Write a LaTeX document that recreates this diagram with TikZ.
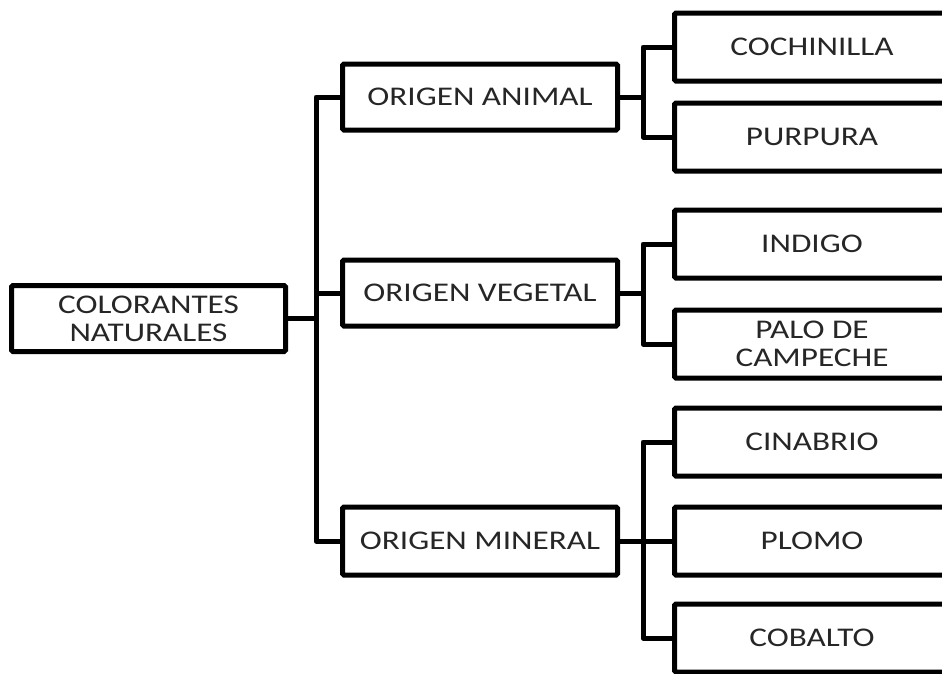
\documentclass[tikz,border=0pt]{standalone}
\usepackage{fontspec}
\setmainfont{Carlito}[FakeStretch=1.23]

\begin{document}
\begin{tikzpicture}[x=1pt,y=-1pt]
        \tikzstyle{box}=[rectangle,draw=black,line width=5pt,rounded corners=1.5pt,minimum width=275pt,minimum height=66pt,inner sep=0pt,align=center,text=black!85,font=\fontsize{27}{28}\selectfont]
        \tikzstyle{leaf}=[box,minimum height=68pt]
        \tikzstyle{link}=[draw=black,line width=5pt,line join=round]

        \useasboundingbox (0,0) rectangle (942,673);
        \clip (0,0) rectangle (942,673);

        % root and first level
        \node [box,minimum width=274pt] (root) at (148.5,318.5) {COLORANTES\\NATURALES};
        \node [box] (anim) at (480,97) {ORIGEN ANIMAL};
        \node [box] (veg) at (480,293) {ORIGEN VEGETAL};
        \node [box,minimum height=68pt] (min) at (480,541) {ORIGEN MINERAL};

        % second level
        \node [leaf] (coch) at (812,47) {COCHINILLA};
        \node [leaf] (purp) at (812,137) {PURPURA};
        \node [leaf] (ind) at (812,244) {INDIGO};
        \node [leaf] (palo) at (812,344) {PALO DE\\CAMPECHE};
        \node [leaf] (cin) at (812,442) {CINABRIO};
        \node [leaf] (plo) at (812,541) {PLOMO};
        \node [leaf] (cob) at (812,638) {COBALTO};

        \coordinate (t) at (316,318.5);
        \coordinate (ta) at (643,97);
        \coordinate (tv) at (643,293);
        \coordinate (tm) at (643,541);

        \path[link] (root.east) -- (t);
        \path[link] (anim.west) -| (t);
        \path[link] (veg.west) -| (t);
        \path[link] (min.west) -| (t);

        \path[link] (anim.east) -- (ta);
        \path[link] (coch.west) -| (ta);
        \path[link] (purp.west) -| (ta);

        \path[link] (veg.east) -- (tv);
        \path[link] (ind.west) -| (tv);
        \path[link] (palo.west) -| (tv);

        \path[link] (min.east) -- (tm);
        \path[link] (cin.west) -| (tm);
        \path[link] (plo.west) -- (tm);
        \path[link] (cob.west) -| (tm);
\end{tikzpicture}
\end{document}
